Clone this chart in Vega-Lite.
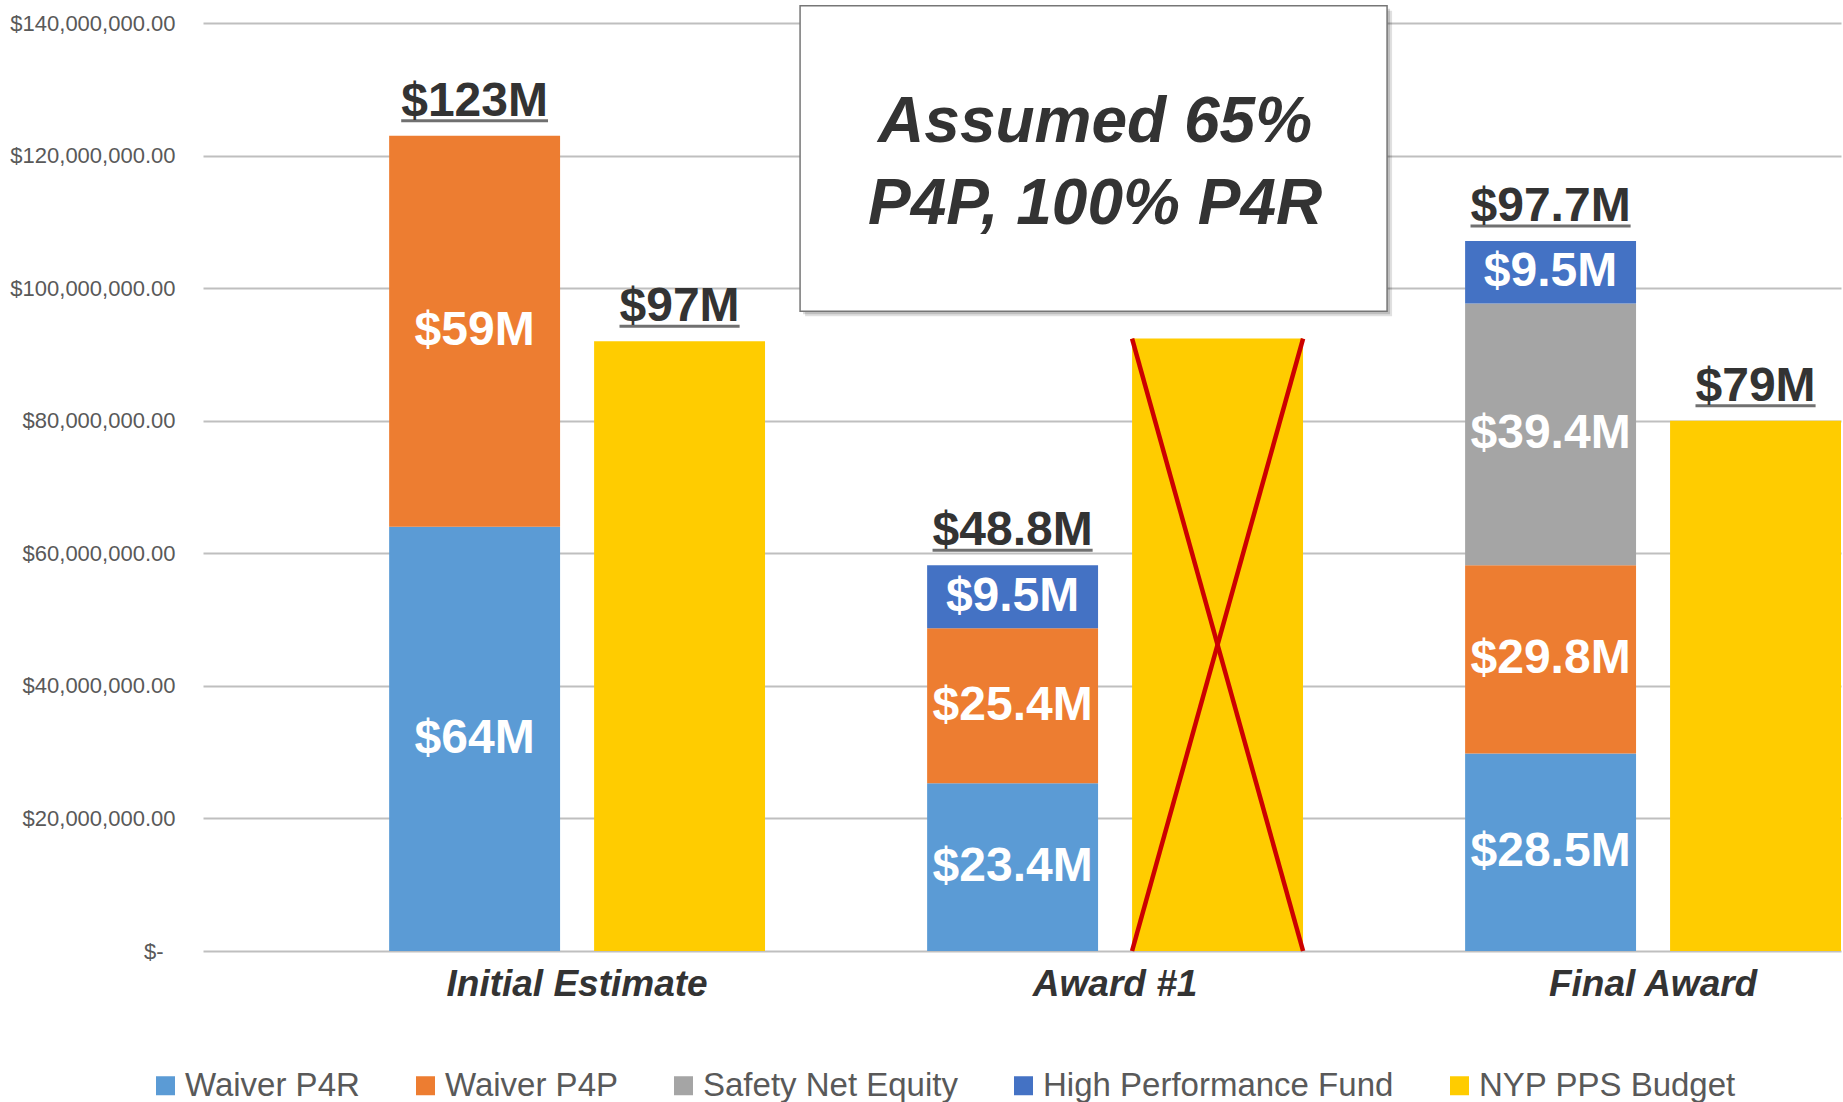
{
  "$schema": "https://vega.github.io/schema/vega-lite/v6.json",
  "width": 1638,
  "height": 928,
  "autosize": {"type": "none"},
  "padding": {"left": 203, "top": 23, "right": 2, "bottom": 151},
  "background": "white",
  "config": {"view": {"stroke": null}, "font": "Liberation Sans"},
  "data": {
    "values": [
      {"cat": "Initial Estimate", "kind": "Funding", "series": "Waiver P4R", "value": 64, "label": "$64M", "total": "$123M"},
      {"cat": "Initial Estimate", "kind": "Funding", "series": "Waiver P4P", "value": 59, "label": "$59M", "total": "$123M"},
      {"cat": "Initial Estimate", "kind": "Budget", "series": "NYP PPS Budget", "value": 92, "label": "", "total": "$97M"},
      {"cat": "Award #1", "kind": "Funding", "series": "Waiver P4R", "value": 25.3, "label": "$23.4M", "total": "$48.8M"},
      {"cat": "Award #1", "kind": "Funding", "series": "Waiver P4P", "value": 23.4, "label": "$25.4M", "total": "$48.8M"},
      {"cat": "Award #1", "kind": "Funding", "series": "High Performance Fund", "value": 9.5, "label": "$9.5M", "total": "$48.8M"},
      {"cat": "Award #1", "kind": "Budget", "series": "NYP PPS Budget", "value": 92.4, "label": "", "total": ""},
      {"cat": "Final Award", "kind": "Funding", "series": "Waiver P4R", "value": 29.8, "label": "$28.5M", "total": "$97.7M"},
      {"cat": "Final Award", "kind": "Funding", "series": "Waiver P4P", "value": 28.4, "label": "$29.8M", "total": "$97.7M"},
      {"cat": "Final Award", "kind": "Funding", "series": "Safety Net Equity", "value": 39.5, "label": "$39.4M", "total": "$97.7M"},
      {"cat": "Final Award", "kind": "Funding", "series": "High Performance Fund", "value": 9.4, "label": "$9.5M", "total": "$97.7M"},
      {"cat": "Final Award", "kind": "Budget", "series": "NYP PPS Budget", "value": 80, "label": "", "total": "$79M"}
    ]
  },
  "transform": [
    {"calculate": "indexof(['Waiver P4R','Waiver P4P','Safety Net Equity','High Performance Fund','NYP PPS Budget'], datum.series)", "as": "idx"},
    {"stack": "value", "groupby": ["cat", "kind"], "sort": [{"field": "idx", "order": "ascending"}], "as": ["v0", "v1"]},
    {"calculate": "(datum.v0 + datum.v1) / 2", "as": "mid"}
  ],
  "encoding": {
    "x": {
      "field": "cat",
      "type": "nominal",
      "scale": {"domain": ["Initial Estimate", "Award #1", "Final Award"], "paddingInner": 0.3013, "paddingOuter": 0.173, "align": 1},
      "axis": {"title": null, "domain": false, "ticks": false, "labelFont": "Liberation Sans", "labelFontSize": 37, "labelFontWeight": "bold", "labelFontStyle": "italic", "labelColor": "#333333", "labelPadding": 44, "labelBaseline": "alphabetic", "labelAngle": 0, "labelLimit": 0}
    }
  },
  "layer": [
    {
      "mark": {"type": "bar"},
      "encoding": {
        "xOffset": {"field": "kind", "type": "nominal", "scale": {"domain": ["Funding", "Budget"], "paddingInner": 0.166, "paddingOuter": 0}},
        "y": {
          "field": "v1",
          "type": "quantitative",
          "scale": {"domain": [0, 140], "nice": false, "zero": true},
          "axis": {"title": null, "values": [0, 20, 40, 60, 80, 100, 120, 140], "labelExpr": "datum.value == 0 ? '$-' : '$' + format(datum.value * 1000000, ',.2f')", "domain": false, "ticks": false, "grid": true, "gridColor": "#BFBFBF", "gridWidth": 2, "labelFont": "Liberation Sans", "labelFontSize": 22, "labelColor": "#595959", "labelPadding": {"condition": {"test": "datum.value == 0", "value": 40}, "value": 28}}
        },
        "y2": {"field": "v0"},
        "color": {
          "field": "series",
          "type": "nominal",
          "scale": {"domain": ["Waiver P4R", "Waiver P4P", "Safety Net Equity", "High Performance Fund", "NYP PPS Budget"], "range": ["#5B9BD5", "#ED7D31", "#A5A5A5", "#4472C4", "#FFCC00"]},
          "legend": {"title": null, "orient": "none", "legendX": -54, "legendY": 1046, "direction": "horizontal", "symbolType": "square", "symbolSize": 361, "symbolStrokeWidth": 0, "labelFont": "Liberation Sans", "labelFontSize": 33, "labelColor": "#595959", "labelOffset": 3, "columnPadding": 49, "padding": 0, "labelLimit": 0}
        }
      }
    },
    {
      "transform": [{"filter": "datum.cat == 'Award #1' && datum.series == 'NYP PPS Budget'"}],
      "mark": {"type": "bar", "width": 587, "xOffset": -16.5, "yOffset": 5, "y2Offset": 5, "fill": "#000000", "opacity": 0.12},
      "encoding": {
        "y": {"datum": 142.6, "type": "quantitative", "axis": {"title": null, "values": [0, 20, 40, 60, 80, 100, 120, 140], "labelExpr": "datum.value == 0 ? '$-' : '$' + format(datum.value * 1000000, ',.2f')", "domain": false, "ticks": false, "grid": true, "gridColor": "#BFBFBF", "gridWidth": 2, "labelFont": "Liberation Sans", "labelFontSize": 22, "labelColor": "#595959", "labelPadding": {"condition": {"test": "datum.value == 0", "value": 40}, "value": 28}}},
        "y2": {"datum": 96.5}
      }
    },
    {
      "transform": [{"filter": "datum.cat == 'Award #1' && datum.series == 'NYP PPS Budget'"}],
      "mark": {"type": "bar", "width": 587, "xOffset": -18.5, "yOffset": 3, "y2Offset": 3, "fill": "#000000", "opacity": 0.15},
      "encoding": {
        "y": {"datum": 142.6, "type": "quantitative", "axis": {"title": null, "values": [0, 20, 40, 60, 80, 100, 120, 140], "labelExpr": "datum.value == 0 ? '$-' : '$' + format(datum.value * 1000000, ',.2f')", "domain": false, "ticks": false, "grid": true, "gridColor": "#BFBFBF", "gridWidth": 2, "labelFont": "Liberation Sans", "labelFontSize": 22, "labelColor": "#595959", "labelPadding": {"condition": {"test": "datum.value == 0", "value": 40}, "value": 28}}},
        "y2": {"datum": 96.5}
      }
    },
    {
      "transform": [{"filter": "datum.cat == 'Award #1' && datum.series == 'NYP PPS Budget'"}],
      "mark": {"type": "bar", "width": 587, "xOffset": -21.5, "fill": "#FFFFFF", "stroke": "#767676", "strokeWidth": 1.5},
      "encoding": {
        "y": {"datum": 142.6, "type": "quantitative", "axis": {"title": null, "values": [0, 20, 40, 60, 80, 100, 120, 140], "labelExpr": "datum.value == 0 ? '$-' : '$' + format(datum.value * 1000000, ',.2f')", "domain": false, "ticks": false, "grid": true, "gridColor": "#BFBFBF", "gridWidth": 2, "labelFont": "Liberation Sans", "labelFontSize": 22, "labelColor": "#595959", "labelPadding": {"condition": {"test": "datum.value == 0", "value": 40}, "value": 28}}},
        "y2": {"datum": 96.5}
      }
    },
    {
      "transform": [{"filter": "datum.cat == 'Award #1' && datum.series == 'NYP PPS Budget'"}],
      "mark": {"type": "text", "xOffset": -20, "font": "Liberation Sans", "fontSize": 64, "fontWeight": "bold", "fontStyle": "italic", "lineHeight": 82, "baseline": "middle", "align": "center", "color": "#333333"},
      "encoding": {
        "y": {"datum": 124.9, "type": "quantitative", "axis": {"title": null, "values": [0, 20, 40, 60, 80, 100, 120, 140], "labelExpr": "datum.value == 0 ? '$-' : '$' + format(datum.value * 1000000, ',.2f')", "domain": false, "ticks": false, "grid": true, "gridColor": "#BFBFBF", "gridWidth": 2, "labelFont": "Liberation Sans", "labelFontSize": 22, "labelColor": "#595959", "labelPadding": {"condition": {"test": "datum.value == 0", "value": 40}, "value": 28}}},
        "text": {"value": ["Assumed 65%", "P4P, 100% P4R"]}
      }
    },
    {
      "transform": [{"filter": "datum.cat == 'Award #1' && datum.series == 'NYP PPS Budget'"}],
      "mark": {"type": "rule", "color": "#CC0000", "strokeWidth": 4.5, "xOffset": 17, "x2Offset": 188},
      "encoding": {
        "x2": {"field": "cat"},
        "y": {"field": "v1", "type": "quantitative", "axis": {"title": null, "values": [0, 20, 40, 60, 80, 100, 120, 140], "labelExpr": "datum.value == 0 ? '$-' : '$' + format(datum.value * 1000000, ',.2f')", "domain": false, "ticks": false, "grid": true, "gridColor": "#BFBFBF", "gridWidth": 2, "labelFont": "Liberation Sans", "labelFontSize": 22, "labelColor": "#595959", "labelPadding": {"condition": {"test": "datum.value == 0", "value": 40}, "value": 28}}},
        "y2": {"datum": 0}
      }
    },
    {
      "transform": [{"filter": "datum.cat == 'Award #1' && datum.series == 'NYP PPS Budget'"}],
      "mark": {"type": "rule", "color": "#CC0000", "strokeWidth": 4.5, "xOffset": 188, "x2Offset": 17},
      "encoding": {
        "x2": {"field": "cat"},
        "y": {"field": "v1", "type": "quantitative", "axis": {"title": null, "values": [0, 20, 40, 60, 80, 100, 120, 140], "labelExpr": "datum.value == 0 ? '$-' : '$' + format(datum.value * 1000000, ',.2f')", "domain": false, "ticks": false, "grid": true, "gridColor": "#BFBFBF", "gridWidth": 2, "labelFont": "Liberation Sans", "labelFontSize": 22, "labelColor": "#595959", "labelPadding": {"condition": {"test": "datum.value == 0", "value": 40}, "value": 28}}},
        "y2": {"datum": 0}
      }
    },
    {
      "transform": [{"filter": "datum.label != ''"}],
      "mark": {"type": "text", "font": "Liberation Sans", "fontSize": 48, "fontWeight": "bold", "color": "#FFFFFF", "baseline": "middle", "align": "center"},
      "encoding": {
        "xOffset": {"field": "kind", "type": "nominal"},
        "y": {"field": "mid", "type": "quantitative", "axis": {"title": null, "values": [0, 20, 40, 60, 80, 100, 120, 140], "labelExpr": "datum.value == 0 ? '$-' : '$' + format(datum.value * 1000000, ',.2f')", "domain": false, "ticks": false, "grid": true, "gridColor": "#BFBFBF", "gridWidth": 2, "labelFont": "Liberation Sans", "labelFontSize": 22, "labelColor": "#595959", "labelPadding": {"condition": {"test": "datum.value == 0", "value": 40}, "value": 28}}},
        "text": {"field": "label"}
      }
    },
    {
      "transform": [
        {"filter": "datum.total != ''"},
        {"aggregate": [{"op": "max", "field": "v1", "as": "top"}], "groupby": ["cat", "kind", "total"]},
        {"calculate": "(length(datum.total) - 1 - (indexof(datum.total, '.') >= 0 ? 1 : 0)) * 26.7 + (indexof(datum.total, '.') >= 0 ? 13.3 : 0) + 40", "as": "ulen"}
      ],
      "layer": [
        {
          "mark": {"type": "text", "font": "Liberation Sans", "fontSize": 48, "fontWeight": "bold", "color": "#333333", "baseline": "alphabetic", "align": "center", "dy": -20},
          "encoding": {
            "xOffset": {"field": "kind", "type": "nominal"},
            "y": {"field": "top", "type": "quantitative", "axis": {"title": null, "values": [0, 20, 40, 60, 80, 100, 120, 140], "labelExpr": "datum.value == 0 ? '$-' : '$' + format(datum.value * 1000000, ',.2f')", "domain": false, "ticks": false, "grid": true, "gridColor": "#BFBFBF", "gridWidth": 2, "labelFont": "Liberation Sans", "labelFontSize": 22, "labelColor": "#595959", "labelPadding": {"condition": {"test": "datum.value == 0", "value": 40}, "value": 28}}},
            "text": {"field": "total"}
          }
        },
        {
          "mark": {"type": "tick", "orient": "horizontal", "thickness": 3, "color": "#333333", "yOffset": -15},
          "encoding": {
            "xOffset": {"field": "kind", "type": "nominal"},
            "y": {"field": "top", "type": "quantitative", "axis": {"title": null, "values": [0, 20, 40, 60, 80, 100, 120, 140], "labelExpr": "datum.value == 0 ? '$-' : '$' + format(datum.value * 1000000, ',.2f')", "domain": false, "ticks": false, "grid": true, "gridColor": "#BFBFBF", "gridWidth": 2, "labelFont": "Liberation Sans", "labelFontSize": 22, "labelColor": "#595959", "labelPadding": {"condition": {"test": "datum.value == 0", "value": 40}, "value": 28}}},
            "size": {"field": "ulen", "type": "quantitative", "scale": null, "legend": null}
          }
        }
      ]
    }
  ]
}
